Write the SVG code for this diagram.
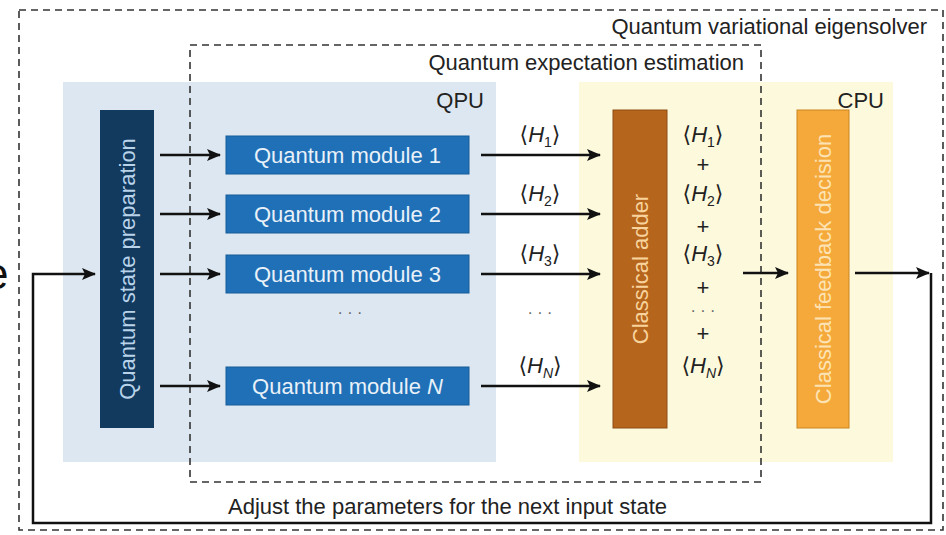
<svg xmlns="http://www.w3.org/2000/svg" width="946" height="535" viewBox="0 0 946 535">
<defs>
<style>
text{font-family:"Liberation Sans","DejaVu Sans",Arial,sans-serif;}
.lbl{font-size:22px;fill:#222;}
.mod{fill:#1f70b6;stroke:#175d98;stroke-width:1;}
.modt{font-size:22px;fill:#e9f1f9;text-anchor:middle;}
.dash{fill:none;stroke:#333;stroke-width:1.6;stroke-dasharray:7 5;}
.arr{fill:none;stroke:#111;stroke-width:2.5;marker-end:url(#ah);}
.h{font-size:22px;fill:#222;text-anchor:middle;}
.dots{font-size:16px;fill:#666;text-anchor:middle;}
</style>
<marker id="ah" markerUnits="userSpaceOnUse" markerWidth="16" markerHeight="14" refX="13" refY="6" orient="auto">
<path d="M0,0 L14,6 L0,12 L3,6 z" fill="#111"/>
</marker>
</defs>
<rect width="946" height="535" fill="#fff"/>
<text x="-16" y="289" font-size="44" fill="#111">e</text>

<g id="qpu-bg"><rect x="63" y="82" width="433" height="380" fill="#dde7f1"/><text x="484" y="108" class="lbl" text-anchor="end">QPU</text></g>
<g id="cpu-bg"><rect x="579" y="82" width="314" height="380" fill="#fdf9dc"/><text x="884" y="108" class="lbl" text-anchor="end">CPU</text></g>

<g id="vqe-frame"><rect x="19" y="10" width="924" height="520" class="dash"/><text x="927" y="34" class="lbl" text-anchor="end">Quantum variational eigensolver</text></g>
<g id="qee-frame"><rect x="190" y="45" width="571" height="437" class="dash"/><text x="744" y="70" class="lbl" text-anchor="end">Quantum expectation estimation</text></g>

<g id="prep"><rect x="100" y="110" width="54" height="318" fill="#123a5e"/><text transform="translate(135,269) rotate(-90)" font-size="22" fill="#b9d3ea" text-anchor="middle">Quantum state preparation</text></g>

<g id="module1"><rect x="226" y="136" width="243" height="38" class="mod"/><text x="347.5" y="163" class="modt">Quantum module 1</text></g>
<g id="module2"><rect x="226" y="195" width="243" height="38" class="mod"/><text x="347.5" y="222" class="modt">Quantum module 2</text></g>
<g id="module3"><rect x="226" y="255" width="243" height="38" class="mod"/><text x="347.5" y="282" class="modt">Quantum module 3</text></g>
<g id="moduleN"><rect x="226" y="367" width="243" height="38" class="mod"/><text x="347.5" y="394" class="modt">Quantum module <tspan font-style="italic">N</tspan></text></g>
<g id="qdots"><text x="350" y="318" class="dots">· · ·</text></g>

<g id="adder"><rect x="613" y="110" width="54" height="318" fill="#b6651c" stroke="#8e4d12" stroke-width="1"/><text transform="translate(648,269) rotate(-90)" font-size="22" fill="#f8d39c" text-anchor="middle">Classical adder</text></g>
<g id="decision"><rect x="797" y="110" width="52" height="318" fill="#f4a93a" stroke="#c98420" stroke-width="1"/><text transform="translate(831,269) rotate(-90)" font-size="22" fill="#fde3b4" text-anchor="middle">Classical feedback decision</text></g>

<g id="labels-mid">
<text x="540" y="142" class="h">⟨<tspan font-style="italic">H</tspan><tspan font-size="14" dy="5">1</tspan><tspan dy="-5">⟩</tspan></text>
<text x="540" y="201" class="h">⟨<tspan font-style="italic">H</tspan><tspan font-size="14" dy="5">2</tspan><tspan dy="-5">⟩</tspan></text>
<text x="540" y="261" class="h">⟨<tspan font-style="italic">H</tspan><tspan font-size="14" dy="5">3</tspan><tspan dy="-5">⟩</tspan></text>
<text x="540" y="318" class="dots">· · ·</text>
<text x="540" y="373" class="h">⟨<tspan font-style="italic">H</tspan><tspan font-size="14" dy="5" font-style="italic">N</tspan><tspan dy="-5">⟩</tspan></text>
</g>
<g id="sum">
<text x="703" y="142" class="h">⟨<tspan font-style="italic">H</tspan><tspan font-size="14" dy="5">1</tspan><tspan dy="-5">⟩</tspan></text>
<text x="703" y="172" class="h">+</text>
<text x="703" y="201" class="h">⟨<tspan font-style="italic">H</tspan><tspan font-size="14" dy="5">2</tspan><tspan dy="-5">⟩</tspan></text>
<text x="703" y="234" class="h">+</text>
<text x="703" y="261" class="h">⟨<tspan font-style="italic">H</tspan><tspan font-size="14" dy="5">3</tspan><tspan dy="-5">⟩</tspan></text>
<text x="703" y="295" class="h">+</text>
<text x="703" y="316" class="dots">· · ·</text>
<text x="703" y="341" class="h">+</text>
<text x="703" y="373" class="h">⟨<tspan font-style="italic">H</tspan><tspan font-size="14" dy="5" font-style="italic">N</tspan><tspan dy="-5">⟩</tspan></text>
</g>

<g id="connectors">
<line x1="160" y1="155" x2="220" y2="155" class="arr"/>
<line x1="160" y1="214" x2="220" y2="214" class="arr"/>
<line x1="160" y1="274" x2="220" y2="274" class="arr"/>
<line x1="160" y1="386" x2="220" y2="386" class="arr"/>
<line x1="481" y1="155" x2="600" y2="155" class="arr"/>
<line x1="481" y1="214" x2="600" y2="214" class="arr"/>
<line x1="481" y1="274" x2="600" y2="274" class="arr"/>
<line x1="481" y1="386" x2="600" y2="386" class="arr"/>
<line x1="743" y1="273" x2="788" y2="273" class="arr"/>
<line x1="855" y1="273" x2="929" y2="273" class="arr"/>
<polyline points="931,273 931,523 33,523 33,274 95,274" class="arr"/>
</g>
<text x="228" y="514" class="lbl">Adjust the parameters for the next input state</text>
</svg>
